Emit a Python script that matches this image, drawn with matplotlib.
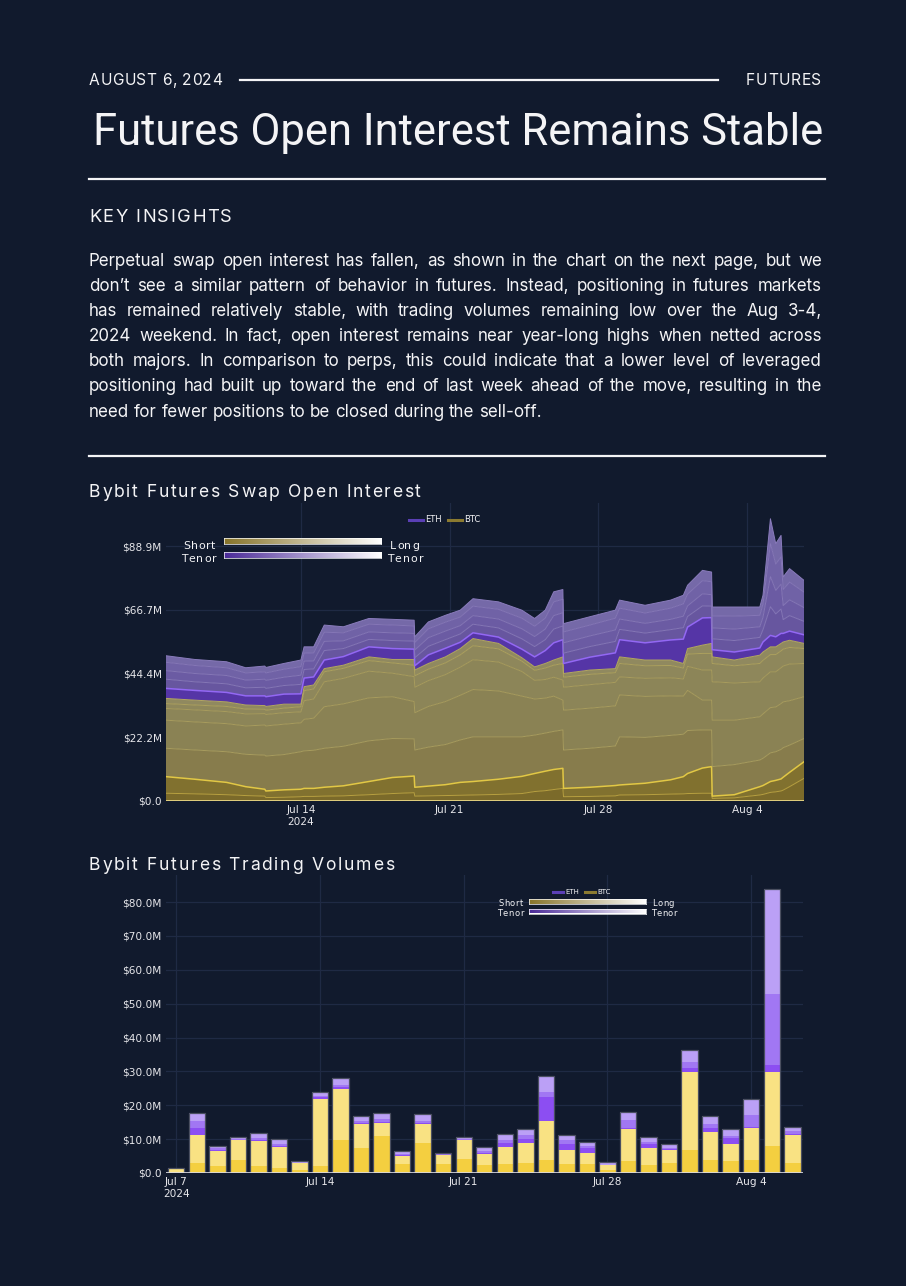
import numpy as np
import pandas as pd
import matplotlib
matplotlib.use('Agg')
import matplotlib.pyplot as plt
from matplotlib.lines import Line2D
from matplotlib.colors import LinearSegmentedColormap
from matplotlib.ft2font import FT2Font
from matplotlib.font_manager import findfont, FontProperties

W, H = 906, 1286
BG = '#111a2d'
INK = '#f4f4f6'

# ---------- page text ----------
date_label = 'AUGUST 6, 2024'
section_label = 'FUTURES'
title = 'Futures Open Interest Remains Stable'
insight_head = 'KEY INSIGHTS'
insight_lines = [
    'Perpetual swap open interest has fallen, as shown in the chart on the next page, but we',
    'don\u2019t see a similar pattern of behavior in futures. Instead, positioning in futures markets',
    'has remained relatively stable, with trading volumes remaining low over the Aug 3-4,',
    '2024 weekend. In fact, open interest remains near year-long highs when netted across',
    'both majors. In comparison to perps, this could indicate that a lower level of leveraged',
    'positioning had built up toward the end of last week ahead of the move, resulting in the',
    'need for fewer positions to be closed during the sell-off.',
]
chart1_title = 'Bybit Futures Swap Open Interest'
chart2_title = 'Bybit Futures Trading Volumes'

# ---------- open interest ($M), days since 2024-07-07, tenors short -> long ----------
oi_days = [0.65, 2.0, 3.5, 4.4, 5.3, 5.35, 6.2, 7.0, 7.15, 7.6,
           8.1, 9.0, 10.2, 11.3, 12.33, 12.36, 13.0, 13.8, 14.5, 15.1,
           16.3, 17.4, 18.0, 18.5, 18.9, 19.33, 19.36, 20.6, 21.8, 22.0,
           23.2, 24.4, 25.0, 25.2, 25.9, 26.33, 26.36, 27.4, 28.6, 28.75,
           29.1, 29.35, 29.6, 29.7, 30.0, 30.68]
btc_oi = [
    [2.7, 2.5, 2.2, 1.9, 1.7, 1.2, 1.3, 1.5, 1.6, 1.6, 1.7, 1.8, 2.2, 2.6, 2.9, 1.7, 1.8, 1.9, 2.0, 2.1, 2.3, 2.6, 3.3, 3.6, 4.0, 4.4, 1.5, 1.6, 1.8, 2.1, 2.2, 2.4, 2.5, 2.6, 2.7, 2.7, 0.9, 1.1, 2.1, 2.3, 3.0, 3.2, 3.5, 3.8, 5.0, 7.9],
    [5.8, 5.1, 4.3, 3.1, 2.4, 2.3, 2.6, 2.6, 2.8, 2.8, 3.1, 3.5, 4.6, 5.6, 5.8, 3.1, 3.4, 3.8, 4.5, 4.7, 5.3, 6.0, 6.3, 6.8, 7.0, 7.0, 2.9, 3.2, 3.6, 3.5, 4.0, 5.0, 6.0, 7.0, 8.8, 9.3, 0.8, 1.1, 2.9, 3.1, 3.8, 4.0, 4.2, 4.5, 5.0, 5.8],
    [9.9, 10.2, 10.7, 11.3, 11.9, 12.2, 12.3, 13.1, 13.1, 13.3, 13.6, 13.8, 14.2, 13.6, 13.0, 13.0, 13.6, 14.0, 14.8, 15.6, 14.8, 13.8, 13.4, 13.3, 13.3, 13.4, 13.4, 13.6, 13.8, 16.8, 16.0, 15.5, 14.8, 15.0, 13.3, 12.8, 10.3, 10.5, 9.3, 9.5, 10.0, 10.0, 10.3, 10.3, 9.5, 8.1],
    [9.8, 9.8, 9.8, 9.9, 10.5, 10.5, 10.6, 10.1, 11.0, 11.2, 14.5, 14.8, 15.0, 14.6, 13.0, 13.0, 14.2, 15.0, 15.6, 16.5, 16.0, 14.2, 12.6, 12.2, 12.3, 10.4, 13.9, 14.0, 14.0, 14.6, 14.3, 13.8, 13.3, 14.0, 10.4, 10.4, 16.2, 15.5, 15.1, 15.5, 15.8, 15.6, 16.0, 16.0, 15.5, 14.6],
    [4.1, 4.2, 4.2, 4.2, 4.0, 4.0, 4.0, 3.8, 6.5, 6.7, 8.7, 8.9, 9.3, 8.2, 8.7, 8.9, 9.0, 9.4, 9.8, 10.4, 10.1, 8.6, 6.5, 6.5, 6.6, 7.0, 8.0, 8.2, 8.2, 6.3, 6.3, 6.3, 6.0, 8.4, 10.5, 10.5, 13.4, 13.0, 12.2, 12.5, 12.5, 12.3, 12.5, 12.5, 12.8, 11.6],
    [1.7, 1.7, 1.8, 1.7, 1.5, 1.5, 1.6, 1.8, 3.5, 3.5, 3.5, 3.5, 3.7, 3.6, 4.0, 4.0, 4.0, 4.1, 4.3, 4.9, 4.6, 3.6, 3.5, 4.0, 4.2, 5.8, 3.5, 3.6, 3.4, 4.7, 4.4, 4.3, 3.8, 4.3, 5.8, 5.8, 6.4, 6.0, 6.4, 6.2, 6.0, 6.0, 5.9, 5.9, 5.8, 5.2],
    [1.8, 1.7, 1.6, 1.4, 1.3, 1.3, 1.4, 0.9, 1.4, 1.4, 1.1, 1.1, 1.3, 1.2, 2.0, 2.0, 2.0, 2.1, 2.2, 2.5, 1.9, 1.2, 1.2, 1.6, 1.8, 2.3, 1.3, 1.5, 1.4, 2.3, 2.0, 1.9, 1.6, 1.9, 2.9, 3.5, 2.3, 2.0, 2.9, 2.9, 2.7, 2.7, 2.6, 2.5, 2.5, 1.8],
]
eth_oi = [
    [3.5, 3.4, 3.3, 3.2, 3.4, 3.4, 3.5, 3.6, 3.0, 2.8, 3.0, 3.0, 3.5, 3.8, 3.6, 1.5, 3.0, 3.0, 2.2, 2.0, 2.2, 3.0, 3.5, 4.5, 6.0, 6.0, 3.5, 4.5, 5.5, 6.0, 6.0, 7.0, 8.5, 7.5, 9.5, 9.0, 2.5, 2.8, 2.5, 3.5, 4.0, 3.5, 3.5, 3.0, 3.2, 3.0],
    [3.2, 3.0, 3.0, 2.8, 3.0, 2.9, 3.0, 3.3, 3.0, 2.8, 3.3, 2.8, 2.6, 2.8, 2.8, 2.8, 3.0, 3.0, 2.9, 3.0, 3.2, 3.6, 3.6, 3.8, 4.8, 4.8, 3.6, 3.7, 4.0, 3.6, 3.4, 3.6, 4.0, 3.7, 4.2, 4.0, 3.8, 4.0, 3.7, 4.3, 10.0, 8.0, 8.5, 4.8, 5.4, 4.7],
    [3.0, 2.9, 2.9, 2.7, 2.8, 2.8, 2.9, 3.2, 2.9, 2.8, 3.2, 2.7, 2.6, 2.7, 2.7, 2.7, 3.0, 3.0, 2.9, 3.0, 3.1, 3.5, 3.5, 3.7, 4.7, 4.6, 3.6, 3.7, 4.0, 3.6, 3.4, 3.6, 4.0, 3.7, 4.2, 4.0, 3.8, 4.0, 3.7, 4.3, 10.5, 8.2, 8.7, 4.9, 5.5, 4.8],
    [2.9, 2.8, 2.7, 2.5, 2.6, 2.6, 2.8, 3.0, 2.8, 2.8, 3.2, 2.8, 2.7, 2.7, 2.6, 2.6, 3.1, 3.1, 3.0, 3.3, 3.4, 3.7, 3.6, 3.8, 4.8, 4.7, 3.8, 3.8, 4.1, 3.8, 3.6, 3.9, 4.3, 4.1, 4.6, 4.5, 4.2, 4.5, 4.0, 4.6, 11.5, 9.2, 9.5, 5.6, 6.2, 5.4],
    [2.3, 2.1, 2.1, 1.8, 2.0, 1.9, 2.0, 2.3, 2.2, 2.1, 2.5, 2.1, 2.0, 2.0, 2.0, 2.0, 2.4, 2.4, 2.4, 2.6, 2.6, 2.8, 2.7, 2.8, 3.5, 3.4, 2.9, 2.9, 2.8, 2.8, 2.7, 2.8, 3.0, 3.1, 3.6, 3.4, 3.1, 3.2, 2.9, 3.1, 8.7, 7.1, 7.5, 4.4, 4.7, 4.1],
]
oi_ticks = [0, 22.2, 44.4, 66.7, 88.9]
oi_ticklabels = ['$0.0', '$22.2M', '$44.4M', '$66.7M', '$88.9M']
oi_xticks = ['2024-07-14', '2024-07-21', '2024-07-28', '2024-08-04']
oi_xticklabels = ['Jul 14\n2024', 'Jul 21', 'Jul 28', 'Aug 4']

# ---------- daily trading volume ($M), Jul 7 .. Aug 6 ----------
vol_start = '2024-07-07'
btc_vol_short = [0.0, 2.9, 2.0, 3.9, 2.2, 1.5, 1.0, 2.0, 9.8, 7.4, 10.8, 2.7, 8.8, 2.7, 4.1, 2.5,
                 2.7, 3.1, 3.9, 2.7, 2.6, 0.8, 3.4, 2.5, 2.9, 6.9, 3.9, 3.4, 3.9, 8.0, 3.0]
btc_vol_long = [1.2, 8.2, 4.5, 5.7, 7.2, 6.1, 1.9, 19.9, 15.0, 7.1, 4.1, 2.4, 5.6, 2.5, 5.5, 3.1,
                5.1, 5.8, 11.5, 4.2, 3.2, 1.5, 9.5, 5.0, 4.0, 22.8, 8.1, 5.3, 9.3, 21.9, 8.3]
eth_vol_short = [0.0, 2.2, 0.4, 0.2, 0.4, 0.3, 0.0, 0.6, 0.6, 0.3, 0.3, 0.2, 0.3, 0.1, 0.1, 0.3,
                 1.0, 1.0, 6.9, 1.8, 1.6, 0.0, 0.3, 1.0, 0.2, 1.2, 1.3, 1.5, 0.5, 2.0, 0.3]
eth_vol_mid = [0.0, 2.0, 0.4, 0.2, 0.6, 0.6, 0.1, 0.3, 0.7, 0.5, 0.8, 0.3, 0.7, 0.2, 0.2, 0.5,
               1.0, 1.2, 1.5, 1.0, 0.5, 0.2, 2.4, 0.7, 0.3, 1.8, 1.2, 0.8, 3.4, 21.0, 0.8]
eth_vol_long = [0.3, 2.3, 0.7, 0.5, 1.3, 1.4, 0.4, 1.0, 2.0, 1.5, 1.6, 0.9, 2.0, 0.5, 0.7, 1.2,
                1.8, 1.8, 4.9, 1.6, 1.2, 0.7, 2.3, 1.5, 1.2, 3.5, 2.4, 1.9, 4.8, 30.9, 1.3]
vol_ticks = [0, 10, 20, 30, 40, 50, 60, 70, 80]
vol_ticklabels = ['$0.0'] + ['$%.1fM' % v for v in vol_ticks[1:]]
vol_xticks = ['2024-07-07', '2024-07-14', '2024-07-21', '2024-07-28', '2024-08-04']
vol_xticklabels = ['Jul 7\n2024', 'Jul 14', 'Jul 21', 'Jul 28', 'Aug 4']

# ---------- helpers (pixel coords, y down) ----------
fig = plt.figure(figsize=(W / 100, H / 100), dpi=100, facecolor=BG)
plt.rcParams['font.family'] = 'DejaVu Sans'


def fx(x):
    return x / W


def fy(y):
    return 1 - y / H


_fonts = {}


def advances(s, family, size):
    if family not in _fonts:
        _fonts[family] = FT2Font(findfont(FontProperties(family=family)))
    f = _fonts[family]
    f.set_size(size, 100)
    return [f.load_char(ord(c)).linearHoriAdvance / 65536 for c in s]


def spaced(x, y, s, size, width, family='Inter', ha='left', color=INK):
    adv = advances(s, family, size)
    track = (width - sum(adv)) / (len(s) - 1)
    if ha == 'right':
        x -= width
    for ch, a in zip(s, adv):
        if ch != ' ':
            fig.text(fx(x), fy(y), ch, fontsize=size, family=family, color=color, va='baseline')
        x += a + track


def hrule(x0, x1, y, lw=1.6):
    fig.add_artist(Line2D([fx(x0), fx(x1)], [fy(y), fy(y)], color=INK, lw=lw,
                          transform=fig.transFigure))


# ---------- header ----------
spaced(89, 85, date_label, 11.2, 133)
hrule(240, 718, 79.5)
spaced(821, 85, section_label, 11.2, 75, ha='right')

t_size = 30 * 729 / sum(advances(title, 'Roboto', 30))
fig.text(fx(458.5), fy(145), title, fontsize=t_size, family='Roboto', color=INK,
         ha='center', va='baseline')
hrule(89, 825, 178.5)

spaced(89, 222, insight_head, 13.2, 143)

# justified paragraph
p_size = 12.5 * 453 / sum(advances(insight_lines[-1], 'Inter', 12.5))
space_w = advances(' ', 'Inter', p_size)[0]
for i, line in enumerate(insight_lines):
    words = line.split(' ')
    ww = [sum(advances(w, 'Inter', p_size)) for w in words]
    gap = space_w if i == len(insight_lines) - 1 else (733 - sum(ww)) / (len(words) - 1)
    x = 89
    for w, wd in zip(words, ww):
        fig.text(fx(x), fy(266 + i * 25.1), w, fontsize=p_size, family='Inter',
                 color=INK, va='baseline')
        x += wd + gap

hrule(89, 825, 455.5)
spaced(89, 497, chart1_title, 12.6, 332)
spaced(89, 870, chart2_title, 12.6, 305)

# ---------- shared axes styling ----------
GRID = '#1f2a44'


def style(ax):
    ax.set_facecolor(BG)
    for s in ax.spines.values():
        s.set_visible(False)
    ax.grid(True, color=GRID, lw=0.9)
    ax.set_axisbelow(True)
    ax.tick_params(length=0, labelsize=7.6, colors='#e6e6ea', pad=3)


# ---------- chart 1: open interest stacked areas ----------
ax1 = fig.add_axes([fx(166), fy(801), (804 - 166) / W, (801 - 503) / H])
style(ax1)
oi_time = pd.Timestamp('2024-07-07') + pd.to_timedelta(oi_days, unit='D')
layers = btc_oi + eth_oi
btc_fill = ['#7b6a2a', '#81712f', '#877c4c', '#8a8254', '#8c8558', '#8e875b', '#90895f']
eth_fill = ['#5535a6', '#67569f', '#6b5ba3', '#7062a6', '#7569a8']
ax1.stackplot(oi_time, *layers, colors=btc_fill + eth_fill, lw=0)
tops = np.cumsum(np.array(layers), axis=0)
line_cols = ['#b9a140', '#e2c845', '#a99d5e', '#a99d5e', '#a99d5e', '#aea25f', '#b4a862',
             '#9368f4', '#8677b8', '#8677b8', '#8677b8', '#8a7cbc']
for k in range(len(layers)):
    ax1.plot(oi_time, tops[k], color=line_cols[k], lw=1.1 if k in (1, 7) else 0.7)
ax1.axhline(0, color='#e8d684', lw=1.3)
ax1.set_xlim(oi_time[0], oi_time[-1])
ax1.set_ylim(0, 104)
ax1.set_yticks(oi_ticks, oi_ticklabels)
ax1.set_xticks(pd.to_datetime(oi_xticks), oi_xticklabels)

# ---------- chart 2: daily volume stacked bars ----------
ax2 = fig.add_axes([fx(166), fy(1173), (803 - 166) / W, (1173 - 875) / H])
style(ax2)
vol_dates = pd.date_range(vol_start, periods=len(btc_vol_short), freq='D')
segments = [btc_vol_short, btc_vol_long, eth_vol_short, eth_vol_mid, eth_vol_long]
seg_cols = ['#f4cf40', '#f9e283', '#8c4ef2', '#a177f3', '#bba0f6']
bottom = np.zeros(len(vol_dates))
for seg, c in zip(segments, seg_cols):
    ax2.bar(vol_dates, seg, bottom=bottom, width=0.8, color=c, lw=0)
    bottom += np.array(seg)
ax2.bar(vol_dates, bottom, width=0.8, fill=False, edgecolor='#4a4f60', lw=0.9)
ax2.axhline(0, color='#dcdce4', lw=1.2)
ax2.set_xlim(pd.Timestamp('2024-07-06 12:00'), pd.Timestamp('2024-08-06 12:30'))
ax2.set_ylim(0, 88)
ax2.set_yticks(vol_ticks, vol_ticklabels)
ax2.set_xticks(pd.to_datetime(vol_xticks), vol_xticklabels)

# ---------- legends ----------
gold_map = LinearSegmentedColormap.from_list('gold', ['#87742a', '#ffffff'])
purple_map = LinearSegmentedColormap.from_list('purple', ['#4a2a98', '#ffffff'])


def grad_bar(x0, x1, y0, y1, cmap):
    a = fig.add_axes([fx(x0), fy(y1), (x1 - x0) / W, (y1 - y0) / H])
    a.imshow(np.linspace(0, 1, 256)[None, :], aspect='auto', cmap=cmap)
    a.set_xticks([])
    a.set_yticks([])
    for s in a.spines.values():
        s.set_color('#ffffff')
        s.set_linewidth(0.5)


def series_key(x, y, size, seg):
    for name, col in (('ETH', '#5a3fb5'), ('BTC', '#8b7a30')):
        fig.add_artist(Line2D([fx(x), fx(x + seg)], [fy(y), fy(y)], color=col, lw=2.2,
                              transform=fig.transFigure))
        fig.text(fx(x + seg + 2), fy(y), name, fontsize=size, color=INK, va='center')
        x += seg + 2 + (19 if size > 5.5 else 16) + 4


# chart 1 legend
series_key(409, 520, 6, 14)
grad_bar(224, 381, 538, 544, gold_map)
grad_bar(224, 381, 552, 558, purple_map)
spaced(215, 549, 'Short', 7.8, 32, family='DejaVu Sans', ha='right')
spaced(216, 562, 'Tenor', 7.8, 35, family='DejaVu Sans', ha='right')
spaced(390, 549, 'Long', 7.8, 29, family='DejaVu Sans')
spaced(387, 562, 'Tenor', 7.8, 36, family='DejaVu Sans')

# chart 2 legend
series_key(553, 892, 5, 10)
grad_bar(529, 646, 899, 903.5, gold_map)
grad_bar(529, 646, 909, 913.5, purple_map)
spaced(523, 906, 'Short', 6, 25, family='DejaVu Sans', ha='right')
spaced(524, 916.5, 'Tenor', 6, 27, family='DejaVu Sans', ha='right')
spaced(652, 906, 'Long', 6, 22, family='DejaVu Sans')
spaced(651, 916.5, 'Tenor', 6, 26, family='DejaVu Sans')

fig.savefig('out.png', dpi=100, facecolor=BG)
